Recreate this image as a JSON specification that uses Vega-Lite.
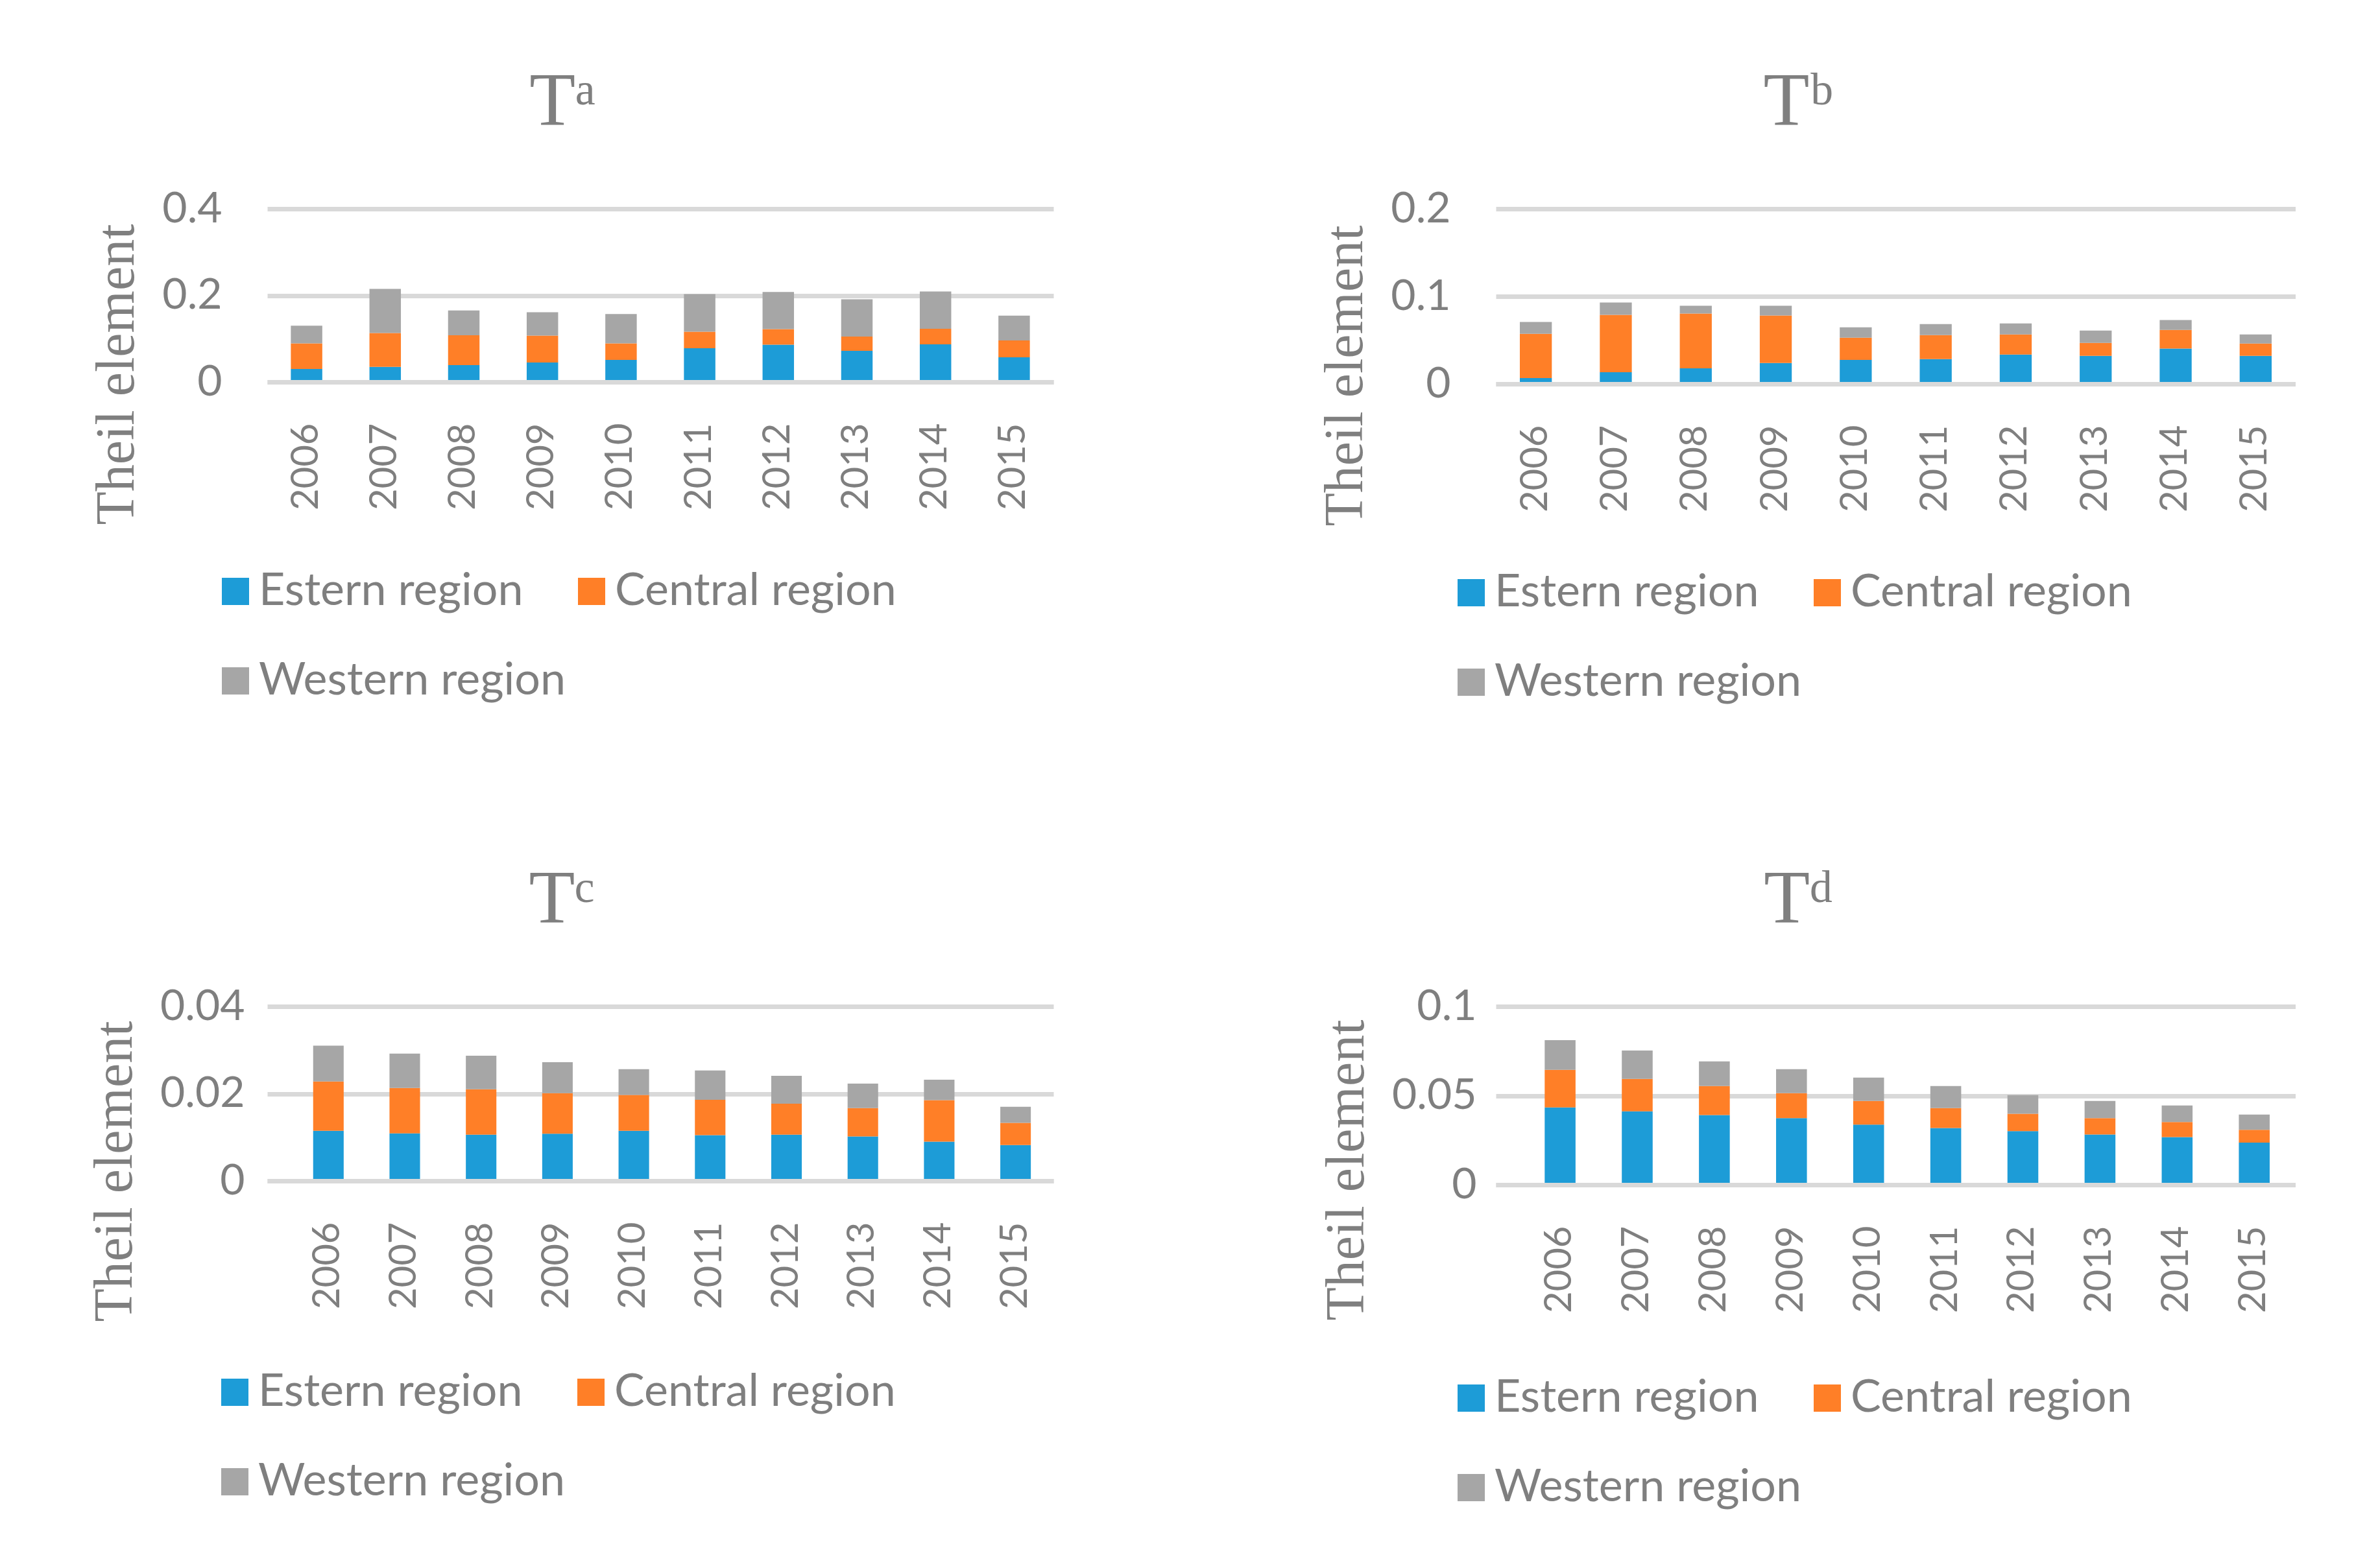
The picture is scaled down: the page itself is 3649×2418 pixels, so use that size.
{
  "$schema": "https://vega.github.io/schema/vega-lite/v6.json",
  "background": "white",
  "padding": {"left": 135, "top": 100, "right": 0, "bottom": 0},
  "datasets": {
    "regions": [
      {"region": "Estern region", "rank": 1},
      {"region": "Central region", "rank": 2},
      {"region": "Western region", "rank": 3}
    ]
  },
  "data": {"values": [
    {"panel": "a", "year": "2006", "region": "Estern region", "value": 0.030},
    {"panel": "a", "year": "2006", "region": "Central region", "value": 0.059},
    {"panel": "a", "year": "2006", "region": "Western region", "value": 0.041},
    {"panel": "a", "year": "2007", "region": "Estern region", "value": 0.035},
    {"panel": "a", "year": "2007", "region": "Central region", "value": 0.078},
    {"panel": "a", "year": "2007", "region": "Western region", "value": 0.102},
    {"panel": "a", "year": "2008", "region": "Estern region", "value": 0.039},
    {"panel": "a", "year": "2008", "region": "Central region", "value": 0.069},
    {"panel": "a", "year": "2008", "region": "Western region", "value": 0.057},
    {"panel": "a", "year": "2009", "region": "Estern region", "value": 0.045},
    {"panel": "a", "year": "2009", "region": "Central region", "value": 0.062},
    {"panel": "a", "year": "2009", "region": "Western region", "value": 0.054},
    {"panel": "a", "year": "2010", "region": "Estern region", "value": 0.051},
    {"panel": "a", "year": "2010", "region": "Central region", "value": 0.038},
    {"panel": "a", "year": "2010", "region": "Western region", "value": 0.068},
    {"panel": "a", "year": "2011", "region": "Estern region", "value": 0.078},
    {"panel": "a", "year": "2011", "region": "Central region", "value": 0.038},
    {"panel": "a", "year": "2011", "region": "Western region", "value": 0.087},
    {"panel": "a", "year": "2012", "region": "Estern region", "value": 0.086},
    {"panel": "a", "year": "2012", "region": "Central region", "value": 0.036},
    {"panel": "a", "year": "2012", "region": "Western region", "value": 0.086},
    {"panel": "a", "year": "2013", "region": "Estern region", "value": 0.072},
    {"panel": "a", "year": "2013", "region": "Central region", "value": 0.033},
    {"panel": "a", "year": "2013", "region": "Western region", "value": 0.086},
    {"panel": "a", "year": "2014", "region": "Estern region", "value": 0.087},
    {"panel": "a", "year": "2014", "region": "Central region", "value": 0.036},
    {"panel": "a", "year": "2014", "region": "Western region", "value": 0.086},
    {"panel": "a", "year": "2015", "region": "Estern region", "value": 0.057},
    {"panel": "a", "year": "2015", "region": "Central region", "value": 0.039},
    {"panel": "a", "year": "2015", "region": "Western region", "value": 0.057},
    {"panel": "b", "year": "2006", "region": "Estern region", "value": 0.0067},
    {"panel": "b", "year": "2006", "region": "Central region", "value": 0.0506},
    {"panel": "b", "year": "2006", "region": "Western region", "value": 0.0134},
    {"panel": "b", "year": "2007", "region": "Estern region", "value": 0.0134},
    {"panel": "b", "year": "2007", "region": "Central region", "value": 0.0654},
    {"panel": "b", "year": "2007", "region": "Western region", "value": 0.0141},
    {"panel": "b", "year": "2008", "region": "Estern region", "value": 0.0178},
    {"panel": "b", "year": "2008", "region": "Central region", "value": 0.0625},
    {"panel": "b", "year": "2008", "region": "Western region", "value": 0.0089},
    {"panel": "b", "year": "2009", "region": "Estern region", "value": 0.0238},
    {"panel": "b", "year": "2009", "region": "Central region", "value": 0.0543},
    {"panel": "b", "year": "2009", "region": "Western region", "value": 0.0111},
    {"panel": "b", "year": "2010", "region": "Estern region", "value": 0.0275},
    {"panel": "b", "year": "2010", "region": "Central region", "value": 0.0253},
    {"panel": "b", "year": "2010", "region": "Western region", "value": 0.0119},
    {"panel": "b", "year": "2011", "region": "Estern region", "value": 0.0283},
    {"panel": "b", "year": "2011", "region": "Central region", "value": 0.0275},
    {"panel": "b", "year": "2011", "region": "Western region", "value": 0.0126},
    {"panel": "b", "year": "2012", "region": "Estern region", "value": 0.0335},
    {"panel": "b", "year": "2012", "region": "Central region", "value": 0.0230},
    {"panel": "b", "year": "2012", "region": "Western region", "value": 0.0126},
    {"panel": "b", "year": "2013", "region": "Estern region", "value": 0.0320},
    {"panel": "b", "year": "2013", "region": "Central region", "value": 0.0148},
    {"panel": "b", "year": "2013", "region": "Western region", "value": 0.0142},
    {"panel": "b", "year": "2014", "region": "Estern region", "value": 0.0404},
    {"panel": "b", "year": "2014", "region": "Central region", "value": 0.0213},
    {"panel": "b", "year": "2014", "region": "Western region", "value": 0.0112},
    {"panel": "b", "year": "2015", "region": "Estern region", "value": 0.0320},
    {"panel": "b", "year": "2015", "region": "Central region", "value": 0.0141},
    {"panel": "b", "year": "2015", "region": "Western region", "value": 0.0104},
    {"panel": "c", "year": "2006", "region": "Estern region", "value": 0.0115},
    {"panel": "c", "year": "2006", "region": "Central region", "value": 0.0113},
    {"panel": "c", "year": "2006", "region": "Western region", "value": 0.0082},
    {"panel": "c", "year": "2007", "region": "Estern region", "value": 0.0109},
    {"panel": "c", "year": "2007", "region": "Central region", "value": 0.0104},
    {"panel": "c", "year": "2007", "region": "Western region", "value": 0.0079},
    {"panel": "c", "year": "2008", "region": "Estern region", "value": 0.0106},
    {"panel": "c", "year": "2008", "region": "Central region", "value": 0.0104},
    {"panel": "c", "year": "2008", "region": "Western region", "value": 0.0077},
    {"panel": "c", "year": "2009", "region": "Estern region", "value": 0.0108},
    {"panel": "c", "year": "2009", "region": "Central region", "value": 0.0093},
    {"panel": "c", "year": "2009", "region": "Western region", "value": 0.0071},
    {"panel": "c", "year": "2010", "region": "Estern region", "value": 0.0115},
    {"panel": "c", "year": "2010", "region": "Central region", "value": 0.0082},
    {"panel": "c", "year": "2010", "region": "Western region", "value": 0.0059},
    {"panel": "c", "year": "2011", "region": "Estern region", "value": 0.0105},
    {"panel": "c", "year": "2011", "region": "Central region", "value": 0.0081},
    {"panel": "c", "year": "2011", "region": "Western region", "value": 0.0067},
    {"panel": "c", "year": "2012", "region": "Estern region", "value": 0.0106},
    {"panel": "c", "year": "2012", "region": "Central region", "value": 0.0071},
    {"panel": "c", "year": "2012", "region": "Western region", "value": 0.0064},
    {"panel": "c", "year": "2013", "region": "Estern region", "value": 0.0102},
    {"panel": "c", "year": "2013", "region": "Central region", "value": 0.0065},
    {"panel": "c", "year": "2013", "region": "Western region", "value": 0.0056},
    {"panel": "c", "year": "2014", "region": "Estern region", "value": 0.0090},
    {"panel": "c", "year": "2014", "region": "Central region", "value": 0.0095},
    {"panel": "c", "year": "2014", "region": "Western region", "value": 0.0047},
    {"panel": "c", "year": "2015", "region": "Estern region", "value": 0.0082},
    {"panel": "c", "year": "2015", "region": "Central region", "value": 0.0051},
    {"panel": "c", "year": "2015", "region": "Western region", "value": 0.0037},
    {"panel": "d", "year": "2006", "region": "Estern region", "value": 0.0434},
    {"panel": "d", "year": "2006", "region": "Central region", "value": 0.0211},
    {"panel": "d", "year": "2006", "region": "Western region", "value": 0.0166},
    {"panel": "d", "year": "2007", "region": "Estern region", "value": 0.0412},
    {"panel": "d", "year": "2007", "region": "Central region", "value": 0.0182},
    {"panel": "d", "year": "2007", "region": "Western region", "value": 0.0159},
    {"panel": "d", "year": "2008", "region": "Estern region", "value": 0.0391},
    {"panel": "d", "year": "2008", "region": "Central region", "value": 0.0163},
    {"panel": "d", "year": "2008", "region": "Western region", "value": 0.0138},
    {"panel": "d", "year": "2009", "region": "Estern region", "value": 0.0374},
    {"panel": "d", "year": "2009", "region": "Central region", "value": 0.0140},
    {"panel": "d", "year": "2009", "region": "Western region", "value": 0.0134},
    {"panel": "d", "year": "2010", "region": "Estern region", "value": 0.0337},
    {"panel": "d", "year": "2010", "region": "Central region", "value": 0.0133},
    {"panel": "d", "year": "2010", "region": "Western region", "value": 0.0131},
    {"panel": "d", "year": "2011", "region": "Estern region", "value": 0.0318},
    {"panel": "d", "year": "2011", "region": "Central region", "value": 0.0112},
    {"panel": "d", "year": "2011", "region": "Western region", "value": 0.0124},
    {"panel": "d", "year": "2012", "region": "Estern region", "value": 0.0301},
    {"panel": "d", "year": "2012", "region": "Central region", "value": 0.0097},
    {"panel": "d", "year": "2012", "region": "Western region", "value": 0.0105},
    {"panel": "d", "year": "2013", "region": "Estern region", "value": 0.0282},
    {"panel": "d", "year": "2013", "region": "Central region", "value": 0.0092},
    {"panel": "d", "year": "2013", "region": "Western region", "value": 0.0096},
    {"panel": "d", "year": "2014", "region": "Estern region", "value": 0.0267},
    {"panel": "d", "year": "2014", "region": "Central region", "value": 0.0085},
    {"panel": "d", "year": "2014", "region": "Western region", "value": 0.0093},
    {"panel": "d", "year": "2015", "region": "Estern region", "value": 0.0236},
    {"panel": "d", "year": "2015", "region": "Central region", "value": 0.0072},
    {"panel": "d", "year": "2015", "region": "Western region", "value": 0.0086}
  ]},
  "columns": 2,
  "spacing": {"row": 243, "column": 408},
  "concat": [
    {
      "title": {"text": "Tᵃ"},
      "width": 1212, "height": 267,
      "transform": [
        {"filter": "datum.panel == 'a'"},
        {"lookup": "region", "from": {"data": {"name": "regions"}, "key": "region", "fields": ["rank"]}}
      ],
      "mark": {"type": "bar"},
      "encoding": {
        "x": {"field": "year", "type": "nominal", "scale": {"paddingInner": 0.6, "paddingOuter": 0.3},
              "axis": {"title": null, "labelAngle": -90, "domain": true, "ticks": false, "zindex": 1}},
        "y": {"field": "value", "type": "quantitative", "stack": "zero", "scale": {"domain": [0, 0.4]},
              "axis": {"values": [0, 0.2, 0.4], "format": "~g", "title": "Theil element", "titleY": 255}},
        "order": {"field": "rank", "type": "quantitative", "sort": "ascending"},
        "color": {"field": "region", "type": "nominal", "sort": ["Estern region", "Central region", "Western region"],
                  "scale": {"domain": ["Estern region", "Central region", "Western region"], "range": ["#1d9cd7", "#ff7f27", "#a6a6a6"]},
                  "legend": {"legendX": -84, "legendY": 555}}
      }
    },
    {
      "title": {"text": "Tᵇ"},
      "width": 1233, "height": 270,
      "transform": [
        {"filter": "datum.panel == 'b'"},
        {"lookup": "region", "from": {"data": {"name": "regions"}, "key": "region", "fields": ["rank"]}}
      ],
      "mark": {"type": "bar"},
      "encoding": {
        "x": {"field": "year", "type": "nominal", "scale": {"paddingInner": 0.6, "paddingOuter": 0.3},
              "axis": {"title": null, "labelAngle": -90, "domain": true, "ticks": false, "zindex": 1}},
        "y": {"field": "value", "type": "quantitative", "stack": "zero", "scale": {"domain": [0, 0.2]},
              "axis": {"values": [0, 0.1, 0.2], "format": "~g", "title": "Theil element", "titleY": 257}},
        "order": {"field": "rank", "type": "quantitative", "sort": "ascending"},
        "color": {"field": "region", "type": "nominal", "sort": ["Estern region", "Central region", "Western region"],
                  "scale": {"domain": ["Estern region", "Central region", "Western region"], "range": ["#1d9cd7", "#ff7f27", "#a6a6a6"]},
                  "legend": {"legendX": -73, "legendY": 557}}
      }
    },
    {
      "title": {"text": "Tᶜ"},
      "width": 1212, "height": 269,
      "transform": [
        {"filter": "datum.panel == 'c'"},
        {"lookup": "region", "from": {"data": {"name": "regions"}, "key": "region", "fields": ["rank"]}}
      ],
      "mark": {"type": "bar"},
      "encoding": {
        "x": {"field": "year", "type": "nominal", "scale": {"paddingInner": 0.6, "paddingOuter": 0.4486, "align": 0.67},
              "axis": {"title": null, "labelAngle": -90, "domain": true, "ticks": false, "zindex": 1}},
        "y": {"field": "value", "type": "quantitative", "stack": "zero", "scale": {"domain": [0, 0.04]},
              "axis": {"values": [0, 0.02, 0.04], "format": "~g", "title": "Theil element", "titleY": 254, "labelPadding": 35}},
        "order": {"field": "rank", "type": "quantitative", "sort": "ascending"},
        "color": {"field": "region", "type": "nominal", "sort": ["Estern region", "Central region", "Western region"],
                  "scale": {"domain": ["Estern region", "Central region", "Western region"], "range": ["#1d9cd7", "#ff7f27", "#a6a6a6"]},
                  "legend": {"legendX": -85, "legendY": 560}}
      }
    },
    {
      "title": {"text": "Tᵈ"},
      "width": 1233, "height": 275,
      "transform": [
        {"filter": "datum.panel == 'd'"},
        {"lookup": "region", "from": {"data": {"name": "regions"}, "key": "region", "fields": ["rank"]}}
      ],
      "mark": {"type": "bar"},
      "encoding": {
        "x": {"field": "year", "type": "nominal", "scale": {"paddingInner": 0.6, "paddingOuter": 0.485, "align": 0.653},
              "axis": {"title": null, "labelAngle": -90, "domain": true, "ticks": false, "zindex": 1}},
        "y": {"field": "value", "type": "quantitative", "stack": "zero", "scale": {"domain": [0, 0.1]},
              "axis": {"values": [0, 0.05, 0.1], "format": "~g", "title": "Theil element", "titleY": 252, "labelPadding": 30}},
        "order": {"field": "rank", "type": "quantitative", "sort": "ascending"},
        "color": {"field": "region", "type": "nominal", "sort": ["Estern region", "Central region", "Western region"],
                  "scale": {"domain": ["Estern region", "Central region", "Western region"], "range": ["#1d9cd7", "#ff7f27", "#a6a6a6"]},
                  "legend": {"legendX": -73, "legendY": 569}}
      }
    }
  ],
  "resolve": {"scale": {"color": "independent", "y": "independent", "x": "independent"}},
  "config": {
    "view": {"stroke": null},
    "font": "Lato",
    "title": {"font": "Liberation Serif", "fontSize": 116, "fontWeight": "normal", "color": "#7f7f7f", "anchor": "middle", "frame": "bounds", "offset": 72, "dx": -14},
    "axis": {
      "labelFont": "Lato", "labelColor": "#7f7f7f", "labelFontSize": 66,
      "titleFont": "Liberation Serif", "titleFontSize": 84, "titleFontWeight": "normal", "titleColor": "#7f7f7f",
      "domainColor": "#d9d9d9", "domainWidth": 7, "gridColor": "#d9d9d9", "gridWidth": 7
    },
    "axisY": {"domain": false, "ticks": false, "grid": true, "labelPadding": 70, "titlePadding": 26},
    "axisX": {"grid": false, "labelPadding": 63, "labelFontSize": 58},
    "legend": {
      "orient": "none", "direction": "horizontal", "columns": 2, "title": null,
      "labelFont": "Lato", "labelFontSize": 70, "labelColor": "#7f7f7f", "labelOffset": 1, "labelLimit": 0,
      "symbolType": "square", "symbolSize": 1764, "symbolStrokeWidth": 0, "symbolOpacity": 1,
      "columnPadding": 4, "rowPadding": 68, "padding": 0
    }
  }
}
